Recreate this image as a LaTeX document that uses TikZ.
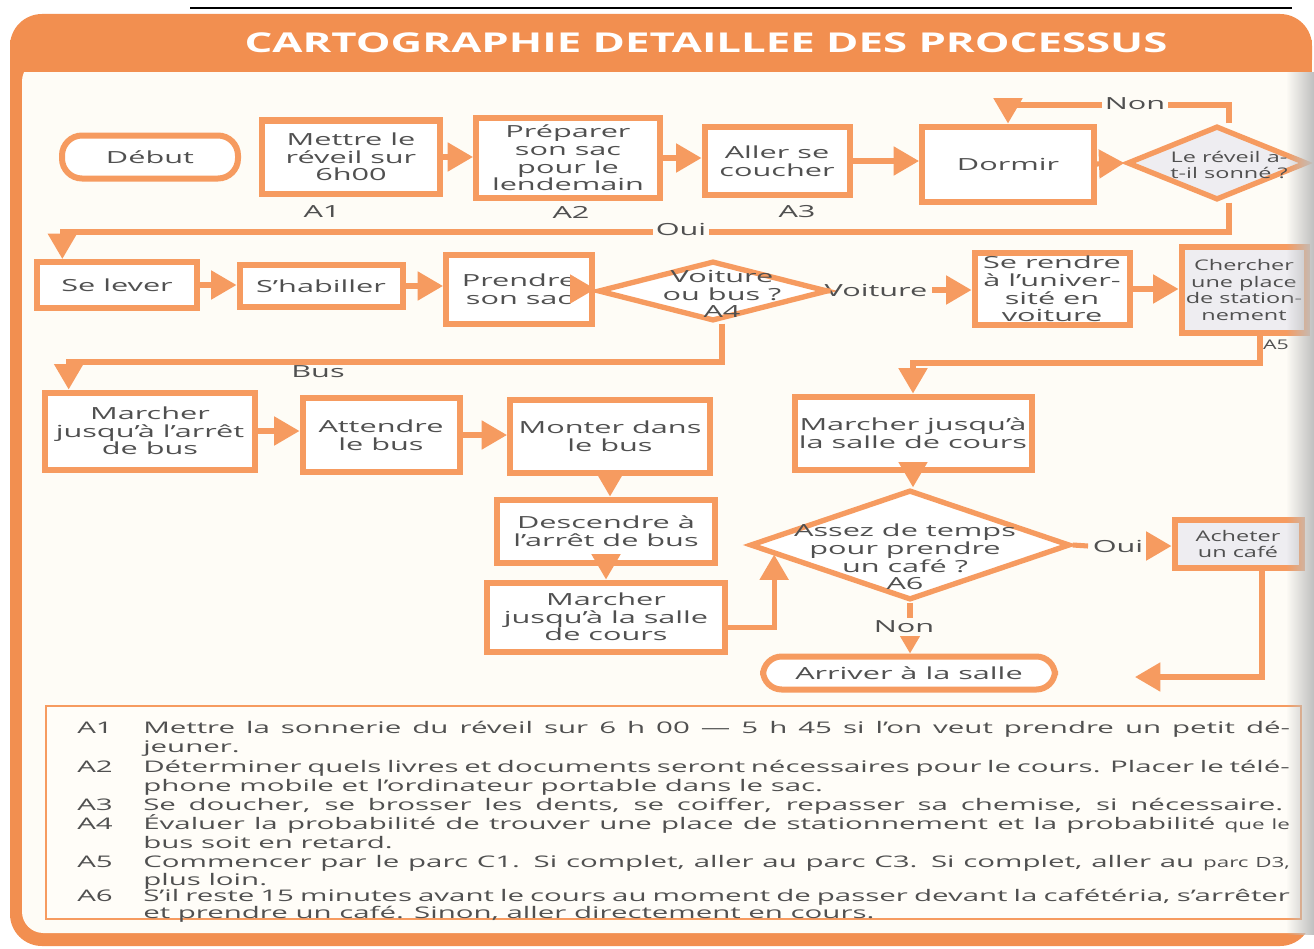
\documentclass[tikz,border=0pt]{standalone}
\usepackage{fontspec}
\setmainfont{Open Sans}[FakeStretch=1.84]
\newfontfamily\slimfont{Open Sans}[FakeStretch=1.6]
\usetikzlibrary{arrows.meta,shapes.geometric,fadings}

\definecolor{frameor}{HTML}{F28F50}
\definecolor{lineor}{HTML}{F69B60}
\definecolor{paper}{HTML}{FEFCF6}
\definecolor{notebg}{HTML}{FFFDF8}
\definecolor{ink}{HTML}{505050}
\definecolor{greyfill}{HTML}{EEEDF1}

\tikzfading[name=edgefade, left color=transparent!100, right color=transparent!0]

\begin{document}
\begin{tikzpicture}[x=0.75pt,y=-0.75pt,
  sz/.style 2 args={minimum width=#1*0.75pt,minimum height=#2*0.75pt},
  boxfont/.style={font=\fontsize{12.5}{13.3}\selectfont},
  smallfont/.style={font=\slimfont\fontsize{11}{12.6}\selectfont},
  stepbox/.style={draw=lineor,line width=4.5pt,fill=white,text=ink,align=center,inner sep=1pt,boxfont},
  term/.style={stepbox,rounded corners=15pt},
  dia/.style={draw=lineor,line width=4pt,fill=white,diamond,inner sep=0pt},
  dtext/.style={text=ink,align=center,boxfont},
  flow/.style={draw=lineor,line width=3.8pt,-{Triangle[length=19pt,width=21pt]}},
  plain/.style={draw=lineor,line width=3.8pt},
  tag/.style={text=ink,boxfont},
  gap/.style={tag,fill=paper,inner sep=2pt},
  notelab/.style={text=ink,anchor=mid west,font=\fontsize{12}{13}\selectfont,inner sep=0pt},
]
\useasboundingbox (0,0) rectangle (1314,949);
\fill[white] (0,0) rectangle (1314,949);

% running rule of the page
\draw[black,line width=1.6pt] (190,8) -- (1292,8);

% orange frame, title band and paper
\fill[frameor,rounded corners=24pt] (10,14) rectangle (1312,946);
\fill[paper,rounded corners=16pt] (22,60) rectangle (1340,933);
\fill[frameor] (10,40) rectangle (1312,72);
\node[text=white,font=\slimfont\fontsize{20.5}{24}\selectfont\bfseries] (title) at (706,43) {CARTOGRAPHIE DETAILLEE DES PROCESSUS};

% ---------- row 1 ----------
\node[term,sz={176}{43}] (deb) at (150,157) {Début};
\node[stepbox,sz={178}{73}] (a1) at (351,157) {Mettre le\\réveil sur\\6h00};
\node[stepbox,sz={184}{79}] (a2) at (568,158) {Préparer\\son sac\\pour le\\lendemain};
\node[stepbox,sz={145}{68}] (a3) at (777,161) {Aller se\\coucher};
\node[stepbox,sz={172}{75}] (dorm) at (1008,164) {Dormir};
\node[dia,fill=greyfill,sz={180}{74}] (d1) at (1217,163) {};
\node[dtext,smallfont] (d1t) at (1229,165) {Le réveil a-\\t-il sonné ?};
\node[tag] (la1) at (322,212) {A1};
\node[tag] (la2) at (571,212) {A2};
\node[tag] (la3) at (797,212) {A3};

% ---------- row 2 ----------
\node[stepbox,sz={160}{46}] (sel) at (117,285) {Se lever};
\node[stepbox,sz={163}{42}] (shab) at (321,286) {S’habiller};
\node[stepbox,sz={146}{69}] (prsac) at (519,289) {Prendre\\son sac};
\node[dia,sz={230}{60}] (d2) at (713,291) {};
\node[dtext] (d2t) at (722,294) {Voiture\\ou bus ?\\A4};
\node[tag] (voit) at (876,290) {Voiture};
\node[stepbox,sz={155}{72}] (rend) at (1052,289) {Se rendre\\à l’univer-\\sité en\\voiture};
\node[stepbox,fill=greyfill,sz={125}{86},smallfont] (cherch) at (1244,290) {Chercher\\une place\\de station-\\nement};
\node[tag,font=\slimfont\fontsize{10}{11}\selectfont] (la5) at (1276,345) {A5};

% ---------- row 3 and bus branch ----------
\node[tag] (bus) at (318,372) {Bus};
\node[stepbox,sz={210}{77}] (marr) at (150,431) {Marcher\\jusqu’à l’arrêt\\de bus};
\node[stepbox,sz={157}{74}] (att) at (381,435) {Attendre\\le bus};
\node[stepbox,sz={200}{73}] (mont) at (610,436) {Monter dans\\le bus};
\node[stepbox,sz={218}{63}] (desc) at (606,531) {Descendre à\\l’arrêt de bus};
\node[stepbox,sz={238}{69}] (mleft) at (606,617) {Marcher\\jusqu’à la salle\\de cours};
\node[stepbox,sz={237}{73}] (mright) at (913,433) {Marcher jusqu’à\\la salle de cours};

% ---------- coffee decision ----------
\node[dia,sz={320}{110}] (d3) at (910,545) {};
\node[dtext] (d3t) at (905,557) {Assez de temps\\pour prendre\\un café ?\\A6};
\node[tag] (oui2) at (1118,546) {Oui};
\node[stepbox,fill=greyfill,sz={127}{48},smallfont] (ach) at (1238,544) {Acheter\\un café};
\node[term,rounded corners=14pt,sz={292}{33}] (arr) at (909,673) {Arriver à la salle};
\coordinate (arrend) at (1135,677);

% ---------- connectors ----------
\coordinate (nony) at (0,105);
\coordinate (ouiy) at (0,232);
\coordinate (busy) at (0,362);
\coordinate (a5y) at (0,363);

\draw[flow] (a1.east) -- (a1.east -| a2.west);
\draw[flow] (a2.east) -- (a2.east -| a3.west);
\draw[flow] (a3.east) -- (a3.east -| dorm.west);
\draw[flow] (dorm.east) -- (d1.west);
\draw[flow] (d1.north -| d1t) -- (d1t |- nony) -| (dorm.north);
\node[gap] (non1) at (1135,104) {Non};
\draw[flow] (d1.south -| d1t) -- (d1t |- ouiy) -| ([xshift=-41pt]sel.north);
\node[gap] (oui1) at (681,229) {Oui};

\draw[flow] (sel.east) -- (sel.east -| shab.west);
\draw[flow] (shab.east) -- (shab.east -| prsac.west);
\draw[flow] (prsac.east) -- (prsac.east -| d2.west);
\draw[plain] (d2.east) -- (voit.west);
\draw[flow] (voit.east) -- (voit.east -| rend.west);
\draw[flow] (rend.east) -- (rend.east -| cherch.west);

\draw[flow] (d2.south -| d2t) -- (d2t |- busy) -| ([xshift=-61pt]marr.north);
\draw[flow] ([xshift=12pt]cherch.south) -- ([xshift=12pt]cherch.south |- a5y) -| (mright.north);

\draw[flow] (marr.east) -- (marr.east -| att.west);
\draw[flow] (att.east) -- (att.east -| mont.west);
\draw[flow] (mont.south) -- (mont.south |- desc.north);
\draw[flow] (desc.south) -- (desc.south |- mleft.north);
\draw[flow] ([yshift=-8pt]mleft.east) -| (d3.184);
\draw[flow] (mright.south) -- (mright.south |- d3.north);

\draw[plain] (d3.east) -- (oui2.west);
\draw[flow] (oui2.east) -- (oui2.east -| ach.west);
\draw[flow] (d3.south) -- (d3.south |- arr.north);
\node[gap] (non2) at (904,627) {Non};
\draw[flow] ([xshift=18pt]ach.south) |- (arrend);

% ---------- notes ----------
\node[draw=lineor,line width=1.3pt,fill=notebg,anchor=north west,sz={1255}{213}] (notes) at (45,705) {};
\begin{scope}[every node/.style={notelab}]
\node (n1) at (77,730) {A1};
\node (t1a) at (143,730) {\makebox[860pt][s]{Mettre la sonnerie du réveil sur 6 h 00 — 5 h 45 si l’on veut prendre un petit dé-}};
\node (t1b) at (143,749) {jeuner.};
\node (n2) at (77,769) {A2};
\node (t2a) at (143,769) {\makebox[860pt][s]{Déterminer quels livres et documents seront nécessaires pour le cours. Placer le télé-}};
\node (t2b) at (143,788) {phone mobile et l’ordinateur portable dans le sac.};
\node (n3) at (77,807) {A3};
\node (t3a) at (143,807) {\makebox[855pt][s]{Se doucher, se brosser les dents, se coiffer, repasser sa chemise, si nécessaire.}};
\node (n4) at (77,826) {A4};
\node (t4a) at (143,826) {\makebox[860pt][s]{Évaluer la probabilité de trouver une place de stationnement et la probabilité {\slimfont\fontsize{10.5}{11}\selectfont que le}}};
\node (t4b) at (143,845) {bus soit en retard.};
\node (n5) at (77,864) {A5};
\node (t5a) at (143,864) {\makebox[860pt][s]{Commencer par le parc C1. Si complet, aller au parc C3. Si complet, aller au {\slimfont\fontsize{10.5}{11}\selectfont parc D3,}}};
\node (t5b) at (143,882) {plus loin.};
\node (n6) at (77,898) {A6};
\node (t6a) at (143,898) {\makebox[860pt][s]{S’il reste 15 minutes avant le cours au moment de passer devant la cafétéria, s’arrêter}};
\node (t6b) at (143,915) {et prendre un café. Sinon, aller directement en cours.};
\end{scope}

% page curl shadow along the right edge
\fill[black!25,path fading=edgefade] (1286,72) rectangle (1314,935);
\end{tikzpicture}
\end{document}
